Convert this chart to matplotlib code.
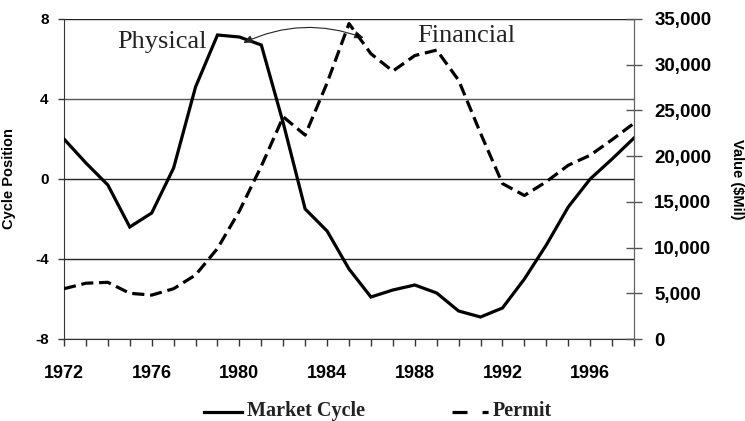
import matplotlib
matplotlib.use("Agg")
import matplotlib.pyplot as plt
from matplotlib.lines import Line2D
from matplotlib.ticker import FuncFormatter, MultipleLocator

years = list(range(1972, 1999))
market_cycle = [2.0, 0.8, -0.3, -2.4, -1.7, 0.55, 4.6, 7.2, 7.1, 6.7, 2.8, -1.5,
                -2.6, -4.5, -5.9, -5.55, -5.3, -5.7, -6.6, -6.9, -6.45, -5.0, -3.3,
                -1.4, 0.0, 1.0, 2.05]
permit = [5500, 6100, 6200, 5000, 4800, 5500, 7000, 9900, 14000, 18900, 24300, 22300,
          28000, 34500, 31200, 29300, 31000, 31600, 28300, 22500, 17000, 15700, 17200,
          19000, 20100, 21800, 23600]
left_ticks = [-8, -4, 0, 4, 8]
right_ticks = [0, 5000, 10000, 15000, 20000, 25000, 30000, 35000]
x_labels = [1972, 1976, 1980, 1984, 1988, 1992, 1996]

sans = ["Liberation Sans", "DejaVu Sans"]
serif = ["Liberation Serif", "DejaVu Serif"]

fig = plt.figure(figsize=(7.45, 4.21), dpi=100)
ax = fig.add_axes([64/745, 1-339/421, 570/745, 320/421])
ax2 = ax.twinx()

ax.set_xlim(1972, 1998)
ax.set_ylim(-8, 8)
ax2.set_ylim(0, 35000)

# grid lines
for v in left_ticks:
    ax.axhline(v, color="#555555" if v == 4 else "#222222", lw=1.0, zorder=1)

ax.plot(years, market_cycle, color="black", lw=2.3, zorder=3, solid_joinstyle="miter")
ax2.plot(years, permit, color="black", lw=2.3, dashes=(3.8, 1.8), zorder=3)

ax.set_xticks(x_labels)
ax.xaxis.set_minor_locator(MultipleLocator(1))
ax.set_xticklabels([str(v) for v in x_labels], fontfamily=sans, fontweight="bold", fontsize=13)
ax.tick_params(axis="x", which="both", direction="out", length=5, width=1, color="#333333", pad=14)

ax.set_yticks(left_ticks)
ax.set_yticklabels([str(v) for v in left_ticks], fontfamily=sans, fontweight="bold", fontsize=11)
ax.tick_params(axis="y", direction="out", length=4, width=1, color="#333333", pad=7)

ax2.set_yticks(right_ticks)
ax2.yaxis.set_major_formatter(FuncFormatter(lambda v, p: f"{int(v):,}"))
for lbl in ax2.get_yticklabels():
    lbl.set_fontfamily(sans)
    lbl.set_fontweight("bold")
    lbl.set_fontsize(13.5)
ax2.tick_params(axis="y", direction="inout", length=11, width=1, color="#555555", pad=9)

for a in (ax, ax2):
    a.spines["top"].set_visible(False)
ax.spines["left"].set_color("#333333")
ax.spines["bottom"].set_color("#333333")
ax2.spines["right"].set_color("#666666")
ax2.spines["left"].set_visible(False)
ax2.spines["bottom"].set_visible(False)

ax.set_ylabel("Cycle Position", fontfamily=sans, fontweight="bold", fontsize=10.5)
ax2.set_ylabel("Value ($Mil)", fontfamily=sans, fontweight="bold", fontsize=10.5,
               rotation=-90, va="bottom")
ax.yaxis.set_label_coords((16-64)/570, 0.5)
ax2.yaxis.set_label_coords((730-64)/570, 0.5)

ax.text(1976.47, 6.85, "Physical", fontfamily=serif, fontsize=19, color="#222222",
        ha="center", va="center", zorder=5)
ax.text(1990.35, 7.15, "Financial", fontfamily=serif, fontsize=19, color="#222222",
        ha="center", va="center", zorder=5)
ax.annotate("", xy=(1985.68, 7.05), xytext=(1980.17, 6.8),
            arrowprops=dict(arrowstyle="<|-|>,head_length=0.55,head_width=0.22",
                            connectionstyle="arc3,rad=-0.21", color="#222222", lw=0.8,
                            shrinkA=0, shrinkB=0), zorder=6)

# legend (drawn manually at bottom)
ly = 1 - 412/421
fig.add_artist(Line2D([204/745, 242/745], [ly, ly], color="black", lw=2.3))
fig.text(247/745, 1 - 416/421, "Market Cycle", fontfamily=serif, fontweight="bold",
         fontsize=14.5, color="#222222", ha="left", va="baseline")
fig.add_artist(Line2D([452/745, 489/745], [ly, ly], color="black", lw=2.3,
                      dashes=(4.7, 4.7, 1.9, 10)))
fig.text(493/745, 1 - 416/421, "Permit", fontfamily=serif, fontweight="bold",
         fontsize=14.5, color="#222222", ha="left", va="baseline")

fig.savefig("out.png", dpi=100)
